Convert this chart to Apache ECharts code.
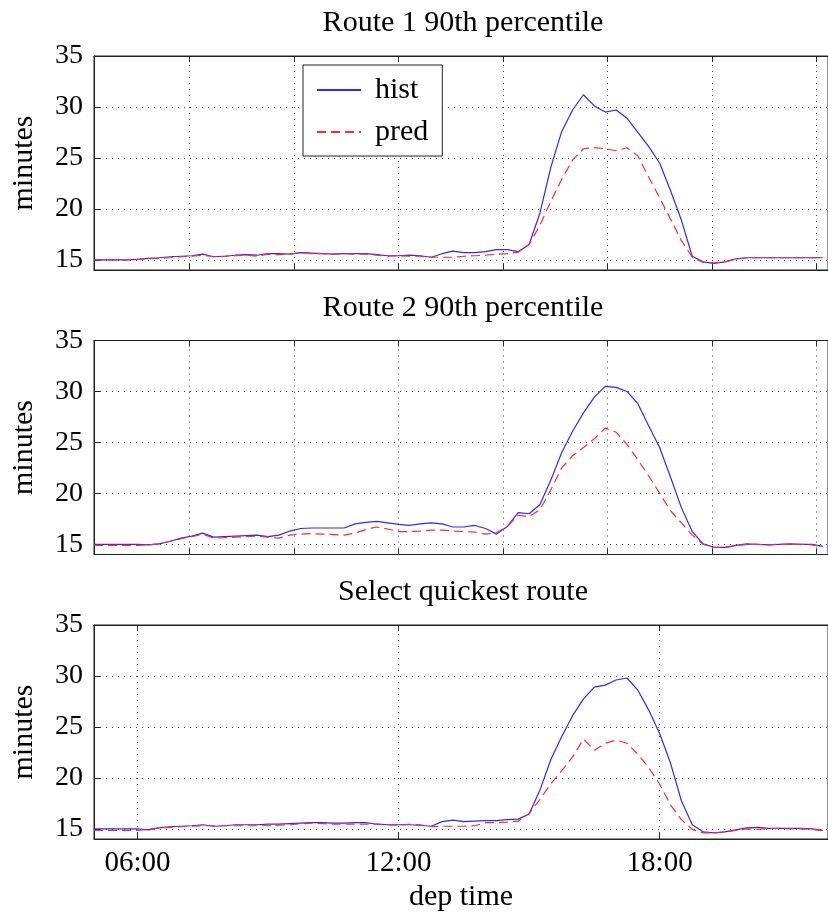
<!DOCTYPE html>
<html><head><meta charset="utf-8">
<script src="https://cdn.jsdelivr.net/npm/echarts@6/dist/echarts.min.js"></script>
<style>html,body{margin:0;padding:0;background:#fff;}#c{width:828px;height:920px;}</style>
</head><body><div id="c"></div>
<script>
// departure time in hours
const times = [5.00,5.25,5.50,5.75,6.00,6.25,6.50,6.75,7.00,7.25,7.50,7.75,8.00,8.25,8.50,8.75,9.00,9.25,9.50,9.75,
  10.00,10.25,10.50,10.75,11.00,11.25,11.50,11.75,12.00,12.25,12.50,12.75,13.00,13.25,13.50,13.75,14.00,14.25,14.50,14.75,
  15.00,15.25,15.50,15.75,16.00,16.25,16.50,16.75,17.00,17.25,17.50,17.75,18.00,18.25,18.50,18.75,19.00,19.25,19.50,19.75,
  20.00,20.25,20.50,20.75,21.00,21.25,21.50,21.75];

const route1Hist = [15.0,15.0,15.0,15.0,15.05,15.15,15.2,15.3,15.35,15.4,15.55,15.3,15.35,15.45,15.5,15.45,15.6,15.6,15.55,15.7,
  15.65,15.6,15.55,15.6,15.6,15.6,15.5,15.4,15.4,15.45,15.4,15.25,15.6,15.85,15.7,15.7,15.8,16.0,16.0,15.8,
  16.5,19.6,24.1,27.6,29.7,31.2,30.1,29.5,29.7,28.9,27.5,26.1,24.5,21.8,18.9,15.35,14.8,14.65,14.8,15.1,
  15.2,15.2,15.2,15.2,15.2,15.2,15.2,15.2];
const route1Pred = [15.0,15.0,15.0,15.0,15.05,15.1,15.15,15.2,15.3,15.35,15.45,15.3,15.35,15.4,15.45,15.35,15.55,15.5,15.55,15.7,
  15.6,15.6,15.55,15.6,15.55,15.55,15.45,15.35,15.4,15.35,15.35,15.25,15.25,15.25,15.35,15.4,15.45,15.55,15.6,15.75,
  16.5,18.4,20.75,22.9,24.8,25.9,26.0,25.9,25.7,26.0,25.2,23.1,21.1,19.0,16.9,15.25,14.75,14.7,14.8,15.05,
  15.2,15.2,15.2,15.2,15.2,15.2,15.2,15.2];

const route2Hist = [15.0,15.0,15.0,15.0,15.0,14.95,15.05,15.3,15.6,15.8,16.1,15.7,15.75,15.8,15.85,15.9,15.75,15.9,16.3,16.55,
  16.6,16.6,16.6,16.6,17.0,17.15,17.25,17.1,16.95,16.85,17.0,17.1,17.0,16.7,16.7,16.85,16.55,16.0,16.75,18.1,
  18.0,18.9,21.3,24.0,26.1,27.9,29.45,30.5,30.4,30.0,28.8,26.6,24.5,21.6,18.6,16.25,15.05,14.7,14.7,14.9,
  15.05,15.0,14.95,15.0,15.05,15.0,15.0,14.8];
const route2Pred = [14.9,14.9,14.9,14.9,14.9,14.95,15.05,15.3,15.55,15.75,16.0,15.6,15.65,15.7,15.75,15.8,15.7,15.6,15.9,16.0,
  16.05,16.0,15.95,15.9,16.1,16.45,16.7,16.5,16.25,16.25,16.3,16.4,16.4,16.3,16.25,16.2,16.0,16.15,16.75,17.85,
  17.7,18.4,20.35,22.5,23.7,24.5,25.35,26.4,26.0,24.8,23.3,21.7,20.0,18.3,17.1,15.9,15.0,14.7,14.7,14.85,
  15.0,15.0,14.95,15.0,15.0,15.0,14.95,14.75];

const quickHist = [15.0,15.0,15.0,15.0,15.0,14.9,15.1,15.2,15.25,15.3,15.4,15.25,15.3,15.4,15.4,15.4,15.45,15.45,15.5,15.55,
  15.6,15.6,15.55,15.55,15.6,15.6,15.45,15.4,15.4,15.4,15.35,15.25,15.7,15.85,15.7,15.75,15.8,15.8,15.9,15.95,
  16.45,18.8,21.8,24.05,26.1,27.75,28.9,29.1,29.6,29.8,28.6,26.65,24.35,21.45,17.75,15.4,14.7,14.6,14.7,14.9,
  15.1,15.15,15.05,15.05,15.05,15.05,15.0,14.85];
const quickPred = [14.85,14.85,14.85,14.85,14.85,14.95,15.1,15.15,15.2,15.25,15.3,15.3,15.3,15.3,15.3,15.3,15.3,15.35,15.4,15.5,
  15.55,15.5,15.45,15.45,15.45,15.45,15.45,15.4,15.35,15.45,15.4,15.2,15.25,15.25,15.25,15.3,15.6,15.6,15.65,15.75,
  16.5,17.9,19.4,20.7,22.05,23.8,22.7,23.4,23.7,23.4,22.3,21.0,19.4,17.35,15.9,14.95,14.6,14.6,14.7,14.85,
  15.0,14.95,15.0,15.05,15.0,15.0,14.95,14.8];

const panelTitles = ['Route 1 90th percentile', 'Route 2 90th percentile', 'Select quickest route'];
const seriesNames = ['hist', 'pred'];
const yTicks = [15, 20, 25, 30, 35];
const gridTicks = [7.2, 9.6, 12, 14.4, 16.8, 19.2, 21.6];
const labelTicks = [6, 12, 18];
const labelTexts = ['06:00', '12:00', '18:00'];
const xLabel = 'dep time';
const yLabel = 'minutes';

const panels = [[route1Hist, route1Pred], [route2Hist, route2Pred], [quickHist, quickPred]];

const FONT = '"Liberation Serif","Times New Roman",serif';
const AX = '#222';
const GRIDC = '#444';
const DOT = [1, 5];
const tops = [56, 340.5, 625];
const titleTops = [8, 293, 577];
const xMin = 5, xMax = 21.87, yMin = 14, yMax = 35;

const grid = [], xAxis = [], yAxis = [], series = [], title = [];
panels.forEach((p, i) => {
  const last = i === 2;
  const ticks = last ? labelTicks : gridTicks;
  grid.push({ left: 94, top: tops[i], width: 738, height: 214, show: true, borderColor: AX, borderWidth: 1, backgroundColor: 'transparent' });
  title.push({ text: panelTitles[i], left: 463, top: titleTops[i], textAlign: 'center', padding: 0,
    textStyle: { fontFamily: FONT, fontSize: 30, fontWeight: 'normal', color: '#000', lineHeight: 30 } });
  xAxis.push({
    gridIndex: i, type: 'value', min: xMin, max: xMax, position: 'bottom',
    axisLine: { show: true, onZero: false, lineStyle: { color: AX, width: 1 } },
    axisTick: { show: true, inside: true, length: 6, customValues: ticks, lineStyle: { color: AX, width: 1 } },
    axisLabel: { show: last, customValues: labelTicks, margin: 10, fontFamily: FONT, fontSize: 29, color: '#000',
      formatter: v => labelTexts[labelTicks.indexOf(v)] || '' },
    splitLine: { show: false },
    name: last ? xLabel : '', nameLocation: 'middle', nameGap: 43,
    nameTextStyle: { fontFamily: FONT, fontSize: 30, color: '#000', lineHeight: 30 }
  });
  xAxis.push({
    gridIndex: i, type: 'value', min: xMin, max: xMax, position: 'top',
    axisLine: { show: true, onZero: false, lineStyle: { color: AX, width: 1 } },
    axisTick: { show: true, inside: true, length: 6, customValues: ticks, lineStyle: { color: AX, width: 1 } },
    axisLabel: { show: false }, splitLine: { show: false }
  });
  yAxis.push({
    gridIndex: i, type: 'value', min: yMin, max: yMax,
    axisLine: { show: true, onZero: false, lineStyle: { color: AX, width: 1 } },
    axisTick: { show: true, inside: true, length: 6, customValues: yTicks, lineStyle: { color: AX, width: 1 } },
    axisLabel: { show: true, customValues: yTicks, margin: 11, fontFamily: FONT, fontSize: 28, color: '#000' },
    splitLine: { show: true, lineStyle: { color: GRIDC, width: 1, type: DOT } },
    name: yLabel, nameLocation: 'middle', nameGap: 55, nameRotate: 90,
    nameTextStyle: { fontFamily: FONT, fontSize: 30, color: '#000', lineHeight: 30 }
  });
  series.push({
    name: seriesNames[0], type: 'line', xAxisIndex: i * 2, yAxisIndex: i, symbol: 'none', smooth: false,
    data: times.map((t, k) => [t, p[0][k]]), color: '#2a2aff', z: 3,
    lineStyle: { color: '#2a2aff', width: 1.2 }, animation: false,
    markLine: {
      silent: true, symbol: ['none', 'none'], label: { show: false }, animation: false, z: 1,
      lineStyle: { color: GRIDC, width: 1, type: DOT },
      emphasis: { disabled: true },
      data: ticks.map(v => ({ xAxis: v }))
    }
  });
  series.push({
    name: seriesNames[1], type: 'line', xAxisIndex: i * 2, yAxisIndex: i, symbol: 'none', smooth: false,
    data: times.map((t, k) => [t, p[1][k]]), color: '#ff2a2a', z: 4,
    lineStyle: { color: '#ff2a2a', width: 1.2, type: [9, 5] }, animation: false
  });
});

const chart = echarts.init(document.getElementById('c'), null, { renderer: 'canvas' });
chart.setOption({
  backgroundColor: '#fff',
  animation: false,
  title, grid, xAxis, yAxis, series,
  legend: {
    data: seriesNames, orient: 'vertical', left: 303, top: 65,
    padding: [10, 14, 9, 13], itemGap: 12, itemWidth: 44, itemHeight: 14,
    borderColor: AX, borderWidth: 1, backgroundColor: '#fff',
    selectedMode: false,
    itemStyle: { opacity: 0, color: 'rgba(0,0,0,0)', borderWidth: 0 },
    textStyle: { fontFamily: FONT, fontSize: 30, color: '#000', lineHeight: 30, padding: [0, 0, 0, 9] }
  }
});
</script></body></html>
